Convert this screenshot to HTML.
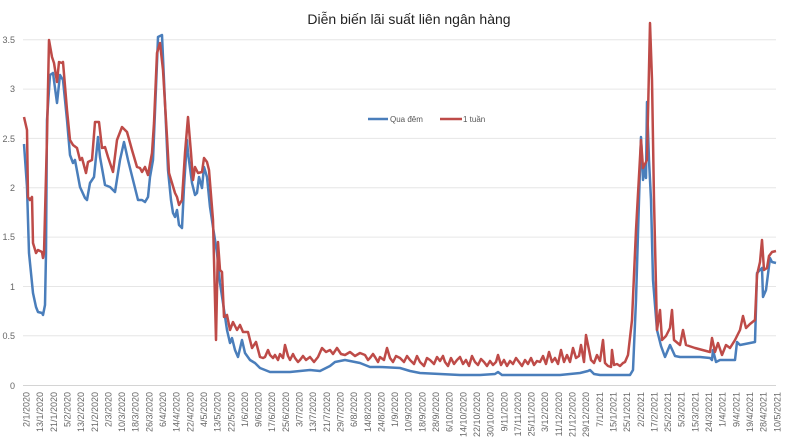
<!DOCTYPE html>
<html><head><meta charset="utf-8"><style>
html,body{margin:0;padding:0;background:#fff;}
svg{display:block;font-family:"Liberation Sans",sans-serif;}
</style></head><body>
<svg width="800" height="438" viewBox="0 0 800 438" xmlns="http://www.w3.org/2000/svg">
<rect width="800" height="438" fill="#fff"/>
<text x="409" y="24" font-size="14" text-anchor="middle" fill="#222">Diễn biến lãi suất liên ngân hàng</text>
<g stroke="#e6e6e6" stroke-width="1">
<line x1="23" x2="776" y1="39.7" y2="39.7"/><line x1="23" x2="776" y1="89.1" y2="89.1"/>
<line x1="23" x2="776" y1="138.4" y2="138.4"/><line x1="23" x2="776" y1="187.8" y2="187.8"/>
<line x1="23" x2="776" y1="237.1" y2="237.1"/><line x1="23" x2="776" y1="286.5" y2="286.5"/>
<line x1="23" x2="776" y1="335.8" y2="335.8"/></g>
<line x1="23" x2="776" y1="385.5" y2="385.5" stroke="#d4d4d4"/>
<g font-size="9" fill="#666" text-anchor="end">
<text x="15" y="43">3.5</text><text x="15" y="92">3</text><text x="15" y="142">2.5</text><text x="15" y="191">2</text>
<text x="15" y="240">1.5</text><text x="15" y="290">1</text><text x="15" y="339">0.5</text><text x="15" y="389">0</text></g>
<line x1="368" x2="388" y1="119" y2="119" stroke="#4a7ebb" stroke-width="2.5"/>
<text x="390" y="122" font-size="8" fill="#555">Qua đêm</text>
<line x1="440" x2="462" y1="119" y2="119" stroke="#be4b48" stroke-width="2.5"/>
<text x="463" y="122" font-size="8" fill="#555">1 tuần</text>
<polyline fill="none" stroke="#4a7ebb" stroke-width="2.5" stroke-linejoin="round" points="24,144 27,187 29,253 33,293 36,307 38,312 42,313 43,315 45,305 46,253 47,120 50,75 53,73 57,103 60,75 63,80 67,120 70,155 73,163 75,160 80,187 85,198 87,200 90,183 94,177 98,137 100,157 105,185 110,187 115,192 120,160 124,142 128,160 133,180 138,200 142,200 145,202 148,197 150,177 153,160 157,63 158,37 162,35 165,103 168,170 171,200 173,213 175,217 177,210 179,225 182,228 184,187 187,140 188,153 192,183 195,195 197,193 199,177 202,188 204,167 207,177 210,207 213,227 217,253 220,283 223,303 227,330 230,343 232,338 235,350 238,357 242,340 245,353 250,360 255,363 260,368 265,370 270,372 280,372 290,372 300,371 310,370 320,371 330,366 335,362 345,360 355,362 360,363 370,367 380,367 400,368 410,371 420,373 440,374 460,375 480,375 495,374 498,372 502,375 520,375 560,375 580,373 588,371 590,370 594,374 600,375 620,375 630,375 633,370 636,300 639,200 641,137 643,180 645,165 646,178 647,102 649,160 651,200 653,280 657,330 661,346 665,357 670,345 675,356 680,357 700,357 710,358 712,360 713,350 716,362 720,360 735,360 737,342 740,345 750,343 755,342 757,273 760,270 762,268 763,297 766,290 770,258 772,262 776,263"/>
<polyline fill="none" stroke="#be4b48" stroke-width="2.5" stroke-linejoin="round" points="24,117 27,130 28,197 30,200 32,197 33,243 36,253 38,250 42,252 43,258 44,253 47,137 49,40 52,57 54,63 57,82 59,62 62,63 63,62 67,110 70,140 73,145 77,148 80,160 82,158 86,173 88,162 92,160 95,122 99,122 102,148 105,147 108,157 113,172 117,140 122,127 127,132 132,150 137,167 140,168 142,172 145,167 148,175 152,153 154,123 157,53 160,43 163,70 167,137 169,173 172,183 175,193 177,197 179,205 182,200 185,153 188,117 191,153 193,180 195,167 198,173 202,172 204,158 207,162 209,170 213,220 216,340 218,242 220,270 222,272 224,317 227,315 230,330 233,322 237,330 240,325 243,332 248,332 252,348 256,342 260,357 263,358 265,357 268,350 270,355 273,358 275,355 278,360 280,354 283,358 285,345 288,356 290,360 293,354 295,358 298,362 300,360 303,356 306,360 310,357 314,362 318,357 322,348 326,352 330,350 333,354 337,348 341,354 345,355 350,352 355,356 360,353 365,355 368,360 370,358 373,354 375,357 378,362 380,357 384,360 387,348 390,358 393,362 396,356 400,358 404,362 407,356 410,360 414,364 417,356 420,362 424,366 427,358 430,360 434,364 437,357 440,361 443,356 445,362 448,366 451,358 454,364 457,360 460,357 463,364 466,360 469,366 472,356 475,362 478,365 481,359 484,362 487,366 490,361 493,365 496,362 498,355 501,365 504,360 507,366 510,361 513,364 516,358 519,362 522,366 525,360 528,364 531,358 534,365 537,361 540,362 543,356 546,364 549,352 552,362 555,358 558,364 561,350 564,362 567,355 570,362 573,348 576,358 579,356 581,345 584,362 586,335 588,345 591,360 594,363 597,355 600,361 603,340 605,363 608,366 611,367 612,350 614,365 617,364 620,366 623,363 625,362 628,355 632,320 636,230 641,140 643,168 647,160 650,23 652,80 654,200 657,330 660,310 662,340 666,336 670,328 672,310 674,340 680,345 683,330 686,345 695,348 710,352 712,338 715,352 718,343 722,355 726,345 730,348 735,340 740,330 743,316 746,328 750,324 755,320 757,275 760,262 762,240 764,270 767,268 769,256 772,252 776,251"/>
<g font-size="9" fill="#666" text-anchor="end">
<text transform="translate(29.5,392) rotate(-90)">2/1/2020</text>
<text transform="translate(43.2,392) rotate(-90)">13/1/2020</text>
<text transform="translate(56.8,392) rotate(-90)">21/1/2020</text>
<text transform="translate(70.5,392) rotate(-90)">5/2/2020</text>
<text transform="translate(84.1,392) rotate(-90)">13/2/2020</text>
<text transform="translate(97.8,392) rotate(-90)">21/2/2020</text>
<text transform="translate(111.4,392) rotate(-90)">2/3/2020</text>
<text transform="translate(125.1,392) rotate(-90)">10/3/2020</text>
<text transform="translate(138.7,392) rotate(-90)">18/3/2020</text>
<text transform="translate(152.4,392) rotate(-90)">26/3/2020</text>
<text transform="translate(166.0,392) rotate(-90)">6/4/2020</text>
<text transform="translate(179.7,392) rotate(-90)">14/4/2020</text>
<text transform="translate(193.3,392) rotate(-90)">22/4/2020</text>
<text transform="translate(207.0,392) rotate(-90)">4/5/2020</text>
<text transform="translate(220.6,392) rotate(-90)">13/5/2020</text>
<text transform="translate(234.3,392) rotate(-90)">22/5/2020</text>
<text transform="translate(247.9,392) rotate(-90)">1/6/2020</text>
<text transform="translate(261.6,392) rotate(-90)">9/6/2020</text>
<text transform="translate(275.2,392) rotate(-90)">17/6/2020</text>
<text transform="translate(288.9,392) rotate(-90)">25/6/2020</text>
<text transform="translate(302.5,392) rotate(-90)">3/7/2020</text>
<text transform="translate(316.2,392) rotate(-90)">13/7/2020</text>
<text transform="translate(329.8,392) rotate(-90)">21/7/2020</text>
<text transform="translate(343.5,392) rotate(-90)">29/7/2020</text>
<text transform="translate(357.1,392) rotate(-90)">6/8/2020</text>
<text transform="translate(370.8,392) rotate(-90)">14/8/2020</text>
<text transform="translate(384.4,392) rotate(-90)">24/8/2020</text>
<text transform="translate(398.1,392) rotate(-90)">1/9/2020</text>
<text transform="translate(411.7,392) rotate(-90)">10/9/2020</text>
<text transform="translate(425.4,392) rotate(-90)">18/9/2020</text>
<text transform="translate(439.0,392) rotate(-90)">28/9/2020</text>
<text transform="translate(452.7,392) rotate(-90)">6/10/2020</text>
<text transform="translate(466.3,392) rotate(-90)">14/10/2020</text>
<text transform="translate(480.0,392) rotate(-90)">22/10/2020</text>
<text transform="translate(493.6,392) rotate(-90)">30/10/2020</text>
<text transform="translate(507.3,392) rotate(-90)">9/11/2020</text>
<text transform="translate(520.9,392) rotate(-90)">17/11/2020</text>
<text transform="translate(534.6,392) rotate(-90)">25/11/2020</text>
<text transform="translate(548.2,392) rotate(-90)">3/12/2020</text>
<text transform="translate(561.9,392) rotate(-90)">11/12/2020</text>
<text transform="translate(575.5,392) rotate(-90)">21/12/2020</text>
<text transform="translate(589.2,392) rotate(-90)">29/12/2020</text>
<text transform="translate(602.8,392) rotate(-90)">7/1/2021</text>
<text transform="translate(616.5,392) rotate(-90)">15/1/2021</text>
<text transform="translate(630.1,392) rotate(-90)">25/1/2021</text>
<text transform="translate(643.8,392) rotate(-90)">2/2/2021</text>
<text transform="translate(657.4,392) rotate(-90)">17/2/2021</text>
<text transform="translate(671.1,392) rotate(-90)">25/2/2021</text>
<text transform="translate(684.7,392) rotate(-90)">5/3/2021</text>
<text transform="translate(698.4,392) rotate(-90)">15/3/2021</text>
<text transform="translate(712.0,392) rotate(-90)">24/3/2021</text>
<text transform="translate(725.7,392) rotate(-90)">1/4/2021</text>
<text transform="translate(739.3,392) rotate(-90)">9/4/2021</text>
<text transform="translate(753.0,392) rotate(-90)">19/4/2021</text>
<text transform="translate(766.6,392) rotate(-90)">28/4/2021</text>
<text transform="translate(780.3,392) rotate(-90)">10/5/2021</text>
</g>
</svg>
</body></html>
